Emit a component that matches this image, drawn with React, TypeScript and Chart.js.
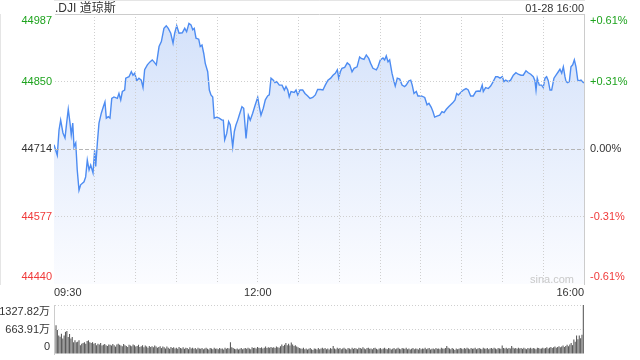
import React, { useEffect, useRef } from 'react';
import { Chart, registerables } from 'chart.js';

Chart.register(...registerables);

// minutes since 09:30
const minuteMarks = [
  0, 2.4, 3.7, 4.9, 6.6, 8.1, 9.3, 10.5, 11.8, 12.7,
  13.8, 14.7, 16.0, 17.1, 18.4, 19.6, 22.1, 23.3, 24.5, 25.8,
  27.0, 28.7, 29.9, 30.7, 31.9, 33.1, 34.8, 36.3, 37.5, 38.5,
  40.0, 41.2, 42.5, 44.1, 46.6, 47.8, 49.1, 50.3, 52.0, 52.8,
  55.2, 56.9, 58.1, 59.4, 60.9, 62.5, 64.2, 65.5, 66.7, 68.7,
  70.6, 72.3, 73.6, 75.3, 77.3, 79.0, 80.9, 82.6, 84.1, 85.9,
  87.6, 88.8, 90.3, 92.0, 94.4, 96.2, 97.6, 99.3, 100.8, 102.1,
  103.2, 104.5, 106.5, 107.6, 108.9, 110.2, 111.3, 113.1, 114.3, 115.5,
  116.8, 117.9, 119.7, 121.6, 123.6, 124.6, 125.6, 127.1, 128.5, 129.7,
  131.5, 132.7, 133.9, 135.2, 136.3, 138.3, 139.6, 141.3, 143.0, 144.4,
  146.2, 148.1, 149.9, 151.1, 152.3, 154.0, 155.5, 157.2, 158.4, 159.7,
  161.4, 162.6, 163.9, 165.8, 167.8, 169.5, 170.7, 172.0, 173.1, 174.4,
  176.8, 178.1, 179.3, 181.0, 183.0, 184.7, 186.7, 188.4, 190.4, 192.3,
  194.0, 196.2, 197.9, 199.6, 201.6, 203.6, 205.3, 207.0, 208.5, 209.5,
  210.7, 211.9, 213.9, 215.8, 217.6, 219.3, 220.8, 223.0, 224.9, 226.1,
  228.1, 229.8, 231.6, 233.0, 234.7, 237.2, 238.4, 240.1, 242.1, 243.3,
  244.5, 245.8, 247.0, 248.7, 250.2, 251.1, 252.6, 254.4, 256.1, 258.0,
  259.2, 261.0, 262.5, 263.6, 264.9, 266.6, 267.8, 270.3, 272.8, 274.5,
  275.9, 277.6, 278.9, 280.1, 281.8, 283.8, 285.5, 287.0, 288.7, 290.4,
  291.9, 293.4, 295.1, 296.3, 297.5, 299.3, 301.2, 303.2, 304.8, 306.6,
  308.5, 310.5, 312.2, 313.5, 315.1, 315.9, 317.6, 319.6, 321.3, 323.2,
  325.0, 326.5, 328.2, 329.9, 331.1, 332.4, 334.3, 336.0, 338.0, 339.9,
  341.6, 343.6, 345.3, 347.3, 349.0, 350.8, 352.7, 353.9, 354.7, 355.6,
  357.1, 358.8, 360.0, 361.3, 362.5, 363.7, 365.0, 366.2, 367.9, 369.4,
  371.1, 372.3, 373.6, 374.8, 376.0, 376.8, 378.0, 379.2, 380.4, 381.7,
  382.9, 384.1, 385.4, 386.6, 387.8, 389.5, 390,
];

const prices = [
  44722, 44701, 44752, 44772, 44746, 44736, 44766, 44794, 44766, 44742,
  44766, 44718, 44726, 44671, 44630, 44641, 44647, 44657, 44691, 44671,
  44681, 44665, 44711, 44678, 44726, 44766, 44786, 44799, 44809, 44776,
  44779, 44776, 44816, 44819, 44816, 44826, 44813, 44830, 44833, 44857,
  44860, 44870, 44863, 44867, 44852, 44857, 44853, 44838, 44874, 44884,
  44890, 44894, 44890, 44884, 44921, 44931, 44958, 44963, 44958, 44948,
  44928, 44948, 44963, 44948, 44949, 44958, 44951, 44968, 44965, 44955,
  44958, 44938, 44936, 44921, 44924, 44907, 44887, 44870, 44833, 44823,
  44819, 44776, 44778, 44776, 44772, 44772, 44732, 44745, 44769, 44762,
  44718, 44749, 44762, 44772, 44782, 44799, 44796, 44735, 44782, 44772,
  44786, 44803, 44818, 44799, 44782, 44796, 44813, 44821, 44823, 44857,
  44853, 44848, 44850, 44843, 44843, 44833, 44840, 44833, 44819, 44830,
  44828, 44833, 44823, 44833, 44833, 44826, 44821, 44816, 44818, 44823,
  44834, 44834, 44833, 44843, 44853, 44857, 44863, 44867, 44874, 44857,
  44870, 44877, 44879, 44888, 44884, 44870, 44877, 44880, 44900, 44897,
  44895, 44904, 44897, 44887, 44877, 44874, 44880, 44894, 44898, 44894,
  44902, 44890, 44894, 44867, 44850, 44841, 44857, 44855, 44843, 44840,
  44843, 44851, 44853, 44843, 44826, 44830, 44821, 44821, 44818, 44803,
  44806, 44798, 44789, 44778, 44780, 44782, 44789, 44787, 44794, 44799,
  44803, 44807, 44813, 44826, 44823, 44828, 44833, 44836, 44833, 44821,
  44821, 44830, 44831, 44830, 44843, 44830, 44838, 44836, 44841, 44850,
  44860, 44860, 44857, 44860, 44850, 44853, 44850, 44853, 44863, 44868,
  44865, 44863, 44863, 44872, 44868, 44865, 44860, 44852, 44833, 44857,
  44843, 44843, 44838, 44857, 44860, 44852, 44833, 44833, 44857, 44863,
  44870, 44875, 44867, 44880, 44860, 44850, 44848, 44850, 44880, 44884,
  44894, 44880, 44853, 44852, 44853, 44848, 44848,
];

// volume per minute, in 万
const volumes = [
  780, 650, 500, 470, 550, 420, 500, 600, 620, 460, 540, 420, 460, 320, 370, 320, 330, 370, 240, 280,
  300, 320, 280, 350, 370, 320, 300, 320, 280, 300, 240, 280, 260, 300, 230, 250, 270, 240, 220, 260,
  250, 230, 270, 240, 200, 260, 280, 250, 230, 210, 270, 240, 220, 190, 250, 230, 210, 260, 240, 200,
  220, 250, 190, 210, 240, 180, 230, 200, 170, 220, 190, 210, 180, 230, 200, 170, 190, 210, 160, 200,
  180, 150, 200, 170, 140, 190, 160, 180, 150, 170, 140, 190, 160, 150, 180, 140, 170, 160, 130, 180,
  150, 170, 140, 160, 130, 170, 150, 140, 160, 130, 150, 170, 140, 120, 160, 150, 130, 170, 140, 150,
  130, 160, 140, 150, 120, 170, 140, 160, 150, 320, 180, 160, 140, 130, 150, 120, 140, 160, 130, 150,
  160, 140, 170, 150, 130, 180, 160, 170, 150, 190, 170, 160, 180, 150, 170, 200, 160, 180, 170, 190,
  170, 180, 160, 200, 180, 170, 210, 260, 220, 250, 300, 240, 280, 230, 310, 260, 220, 240, 200, 180,
  160, 150, 140, 170, 130, 150, 120, 140, 160, 130, 110, 150, 140, 120, 160, 130, 150, 170, 140, 160,
  130, 150, 120, 160, 140, 220, 150, 130, 170, 140, 160, 130, 150, 170, 140, 120, 160, 150, 130, 170,
  140, 160, 150, 130, 170, 160, 140, 180, 150, 130, 160, 170, 140, 150, 130, 160, 170, 140, 120, 150,
  160, 130, 150, 170, 140, 130, 160, 150, 120, 140, 160, 130, 150, 170, 140, 130, 160, 150, 140, 170,
  130, 150, 120, 140, 160, 130, 150, 140, 120, 160, 130, 150, 140, 170, 130, 150, 160, 120, 140, 150,
  130, 160, 140, 150, 130, 170, 150, 140, 160, 220, 170, 150, 130, 160, 140, 110, 150, 130, 140, 160,
  150, 130, 160, 140, 170, 150, 130, 160, 140, 150, 170, 130, 150, 160, 140, 130, 170, 150, 140, 160,
  130, 150, 160, 140, 170, 150, 130, 160, 150, 140, 230, 160, 150, 170, 140, 160, 150, 220, 170, 150,
  160, 140, 170, 150, 160, 140, 170, 150, 130, 160, 150, 170, 140, 160, 150, 130, 170, 160, 140, 150,
  170, 150, 160, 180, 150, 170, 190, 160, 180, 200, 170, 190, 210, 180, 200, 230, 190, 220, 250, 210,
  260, 300, 240, 390, 330, 500, 400, 500, 430, 520, 1327.82,
];

const priceTicks = [44440, 44576.75, 44713.5, 44850.25, 44987];
const priceTickLabels = ['44440', '44577', '44714', '44850', '44987'];
const pctTickLabels = ['-0.61%', '-0.31%', '0.00%', '+0.31%', '+0.61%'];
const timeTicks = [0, 30, 60, 90, 120, 150, 180, 210, 240, 270, 300, 330, 360, 390];
const timeTickLabels: Record<number, string> = { 0: '09:30', 150: '12:00', 390: '16:00' };
const volumeTicks = [0, 663.91, 1327.82];
const volumeTickLabels = ['0', '663.91万', '1327.82万'];

const FONT = 'Arial, "Liberation Sans", "Noto Sans CJK SC", sans-serif';
const GREEN = '#1ea31e';
const RED = '#f03a3a';
const DARK = '#333333';
const GRID = '#cfcfcf';
const FRAME = '#cccccc';
const CLEAR = 'rgba(0,0,0,0)';

const tickColor = (i: number) => (i > 2 ? GREEN : i < 2 ? RED : DARK);
const shiftLabel = (label: string, i: number, last: number) =>
  i === last ? ['', label] : i === 0 ? [label, ''] : label;

export default function App() {
  const priceRef = useRef<HTMLCanvasElement>(null);
  const volRef = useRef<HTMLCanvasElement>(null);

  useEffect(() => {
    const priceChart = new Chart(priceRef.current!, {
      type: 'line',
      data: {
        datasets: [
          {
            data: minuteMarks.map((m, i) => ({ x: m, y: prices[i] })),
            borderColor: '#4d8cf2',
            borderWidth: 1.4,
            pointRadius: 0,
            tension: 0,
            fill: 'start',
            backgroundColor: (ctx: any) => {
              const chart = ctx.chart;
              const a = chart.chartArea;
              if (!a) return 'rgba(215,228,250,0.8)';
              const g = chart.ctx.createLinearGradient(0, a.top, 0, a.bottom);
              g.addColorStop(0, '#d3e1fa');
              g.addColorStop(1, '#fbfcff');
              return g;
            },
          },
        ],
      },
      options: {
        animation: false,
        responsive: false,
        maintainAspectRatio: false,
        layout: { padding: { top: 14, left: 0, right: 0, bottom: 0 } },
        plugins: { legend: { display: false }, tooltip: { enabled: false } },
        scales: {
          x: {
            type: 'linear',
            min: 0,
            max: 390,
            position: 'bottom',
            afterBuildTicks: (s: any) => {
              s.ticks = timeTicks.map((v) => ({ value: v }));
            },
            afterFit: (s: any) => {
              s.height = 16;
              s.paddingLeft = 0;
              s.paddingRight = 0;
            },
            ticks: {
              autoSkip: false,
              maxRotation: 0,
              align: 'inner',
              padding: 2,
              color: DARK,
              font: { family: FONT, size: 11 },
              callback: (v: any) => timeTickLabels[v as number] ?? '',
            },
            grid: {
              z: 1,
              drawTicks: false,
              color: (ctx: any) =>
                ctx.index === 0 || ctx.index === timeTicks.length - 1 ? CLEAR : GRID,
            },
            border: {
              color: FRAME,
              dash: (ctx: any) => (ctx.type === 'tick' ? [1, 2] : []),
            },
          } as any,
          y: {
            position: 'left',
            min: 44440,
            max: 44987,
            afterBuildTicks: (s: any) => {
              s.ticks = priceTicks.map((v) => ({ value: v }));
            },
            afterFit: (s: any) => {
              s.width = 54;
              s.paddingTop = 0;
              s.paddingBottom = 0;
            },
            ticks: {
              autoSkip: false,
              padding: 2,
              color: (ctx: any) => tickColor(ctx.index),
              font: { family: FONT, size: 11 },
              callback: (_v: any, i: number) => shiftLabel(priceTickLabels[i], i, 4),
            },
            grid: {
              z: 1,
              drawTicks: false,
              color: (ctx: any) =>
                ctx.index === 0 ? CLEAR : ctx.index === 4 ? FRAME : ctx.index === 2 ? '#b5b5b5' : GRID,
            },
            border: {
              color: FRAME,
              dash: (ctx: any) =>
                ctx.type === 'tick' ? (ctx.index === 4 ? [] : ctx.index === 2 ? [4, 2] : [1, 2]) : [],
            },
          } as any,
          y2: {
            position: 'right',
            min: 44440,
            max: 44987,
            afterBuildTicks: (s: any) => {
              s.ticks = priceTicks.map((v) => ({ value: v }));
            },
            afterFit: (s: any) => {
              s.width = 56;
              s.paddingTop = 0;
              s.paddingBottom = 0;
            },
            ticks: {
              autoSkip: false,
              padding: 6,
              color: (ctx: any) => tickColor(ctx.index),
              font: { family: FONT, size: 11 },
              callback: (_v: any, i: number) => shiftLabel(pctTickLabels[i], i, 4),
            },
            grid: { drawTicks: false, drawOnChartArea: false },
            border: { color: FRAME },
          } as any,
        },
      },
    });

    const volChart = new Chart(volRef.current!, {
      type: 'bar',
      data: {
        datasets: [
          {
            data: volumes.map((v, i) => ({ x: i, y: v })),
            backgroundColor: '#5a5a5a',
            borderWidth: 0,
            barPercentage: 0.8,
            categoryPercentage: 1,
          },
        ],
      },
      options: {
        animation: false,
        responsive: false,
        maintainAspectRatio: false,
        layout: { padding: { top: 5, bottom: 6, left: 0, right: 56 } },
        plugins: { legend: { display: false }, tooltip: { enabled: false } },
        scales: {
          x: { type: 'linear', min: -1.5, max: 390.5, offset: false, display: false } as any,
          y: {
            position: 'left',
            min: 0,
            max: 1327.82,
            afterBuildTicks: (s: any) => {
              s.ticks = volumeTicks.map((v) => ({ value: v }));
            },
            afterFit: (s: any) => {
              s.width = 54;
              s.paddingTop = 0;
              s.paddingBottom = 0;
            },
            ticks: {
              autoSkip: false,
              padding: 4,
              color: DARK,
              font: { family: FONT, size: 11 },
              callback: (_v: any, i: number) => shiftLabel(volumeTickLabels[i], i, 2),
            },
            grid: {
              drawTicks: false,
              color: (ctx: any) => (ctx.index === 0 ? CLEAR : GRID),
            },
            border: {
              color: FRAME,
              dash: (ctx: any) => (ctx.type === 'tick' ? [1, 2] : []),
            },
          } as any,
        },
      },
    });

    return () => {
      priceChart.destroy();
      volChart.destroy();
    };
  }, []);

  return (
    <div
      style={{
        position: 'absolute',
        left: 0,
        top: 0,
        width: 640,
        height: 360,
        background: '#fff',
        fontFamily: FONT,
        overflow: 'hidden',
      }}
    >
      <canvas
        ref={priceRef}
        width={640}
        height={300}
        style={{ position: 'absolute', left: 0, top: 0 }}
      />
      <canvas
        ref={volRef}
        width={640}
        height={60}
        style={{ position: 'absolute', left: 0, top: 300 }}
      />
      <div
        style={{
          position: 'absolute',
          left: 55,
          top: 0,
          fontSize: 12,
          lineHeight: '16px',
          color: DARK,
          whiteSpace: 'nowrap',
        }}
      >
        .DJI 道琼斯
      </div>
      <div
        style={{
          position: 'absolute',
          left: 0,
          width: 584,
          top: 0,
          fontSize: 11,
          lineHeight: '16px',
          color: DARK,
          textAlign: 'right',
          whiteSpace: 'nowrap',
        }}
      >
        01-28 16:00
      </div>
      <div
        style={{
          position: 'absolute',
          left: 0,
          width: 574,
          top: 272,
          fontSize: 11,
          lineHeight: '14px',
          color: '#c9c9c9',
          textAlign: 'right',
          whiteSpace: 'nowrap',
        }}
      >
        sina.com
      </div>
    </div>
  );
}
